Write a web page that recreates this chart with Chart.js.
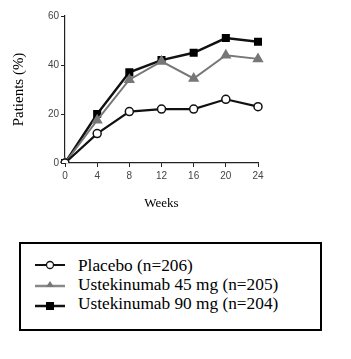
<!DOCTYPE html>
<html><head><meta charset="utf-8">
<script src="https://cdn.jsdelivr.net/npm/chart.js@4/dist/chart.umd.min.js"></script>
<style>
html,body{margin:0;padding:0;background:#fff;}
#wrap{position:relative;width:351px;height:359px;}
#c{position:absolute;left:0;top:0;}
#legend{position:absolute;left:19px;top:242px;width:299px;height:85px;border:2px solid #000;font-family:"Liberation Serif","Times New Roman",serif;font-size:17.3px;color:#000;}
.row{position:absolute;left:0;height:19px;line-height:19px;white-space:nowrap;}
.row svg{position:absolute;left:14px;top:2px;}
.row span{position:absolute;left:57px;top:0;}
</style></head><body>
<div id="wrap">
<canvas id="c" width="351" height="215"></canvas>
<div id="legend"></div>
</div>
<script>
const weeks = ["0","4","8","12","16","20","24"];
const placebo = [0, 12, 21, 22, 22, 26, 23];
const uste45 = [0, 17.5, 34, 41.5, 34.5, 44, 42.5];
const uste90 = [0, 20, 37, 42, 45, 51, 49.5];
const seriesNames = ["Placebo (n=206)", "Ustekinumab 45 mg (n=205)", "Ustekinumab 90 mg (n=204)"];
const yTicks = [0, 20, 40, 60];

const ds = [
  {label: seriesNames[0], data: placebo, borderColor:"#111", borderWidth:2.2, pointStyle:"circle", pointRadius:4, pointBackgroundColor:"#fff", pointBorderColor:"#111", pointBorderWidth:1.5, order:1},
  {label: seriesNames[1], data: uste45, borderColor:"#777", borderWidth:2, pointStyle:"triangle", pointRadius:4.5, pointBackgroundColor:"#777", pointBorderColor:"#777", order:2},
  {label: seriesNames[2], data: uste90, borderColor:"#111", borderWidth:2.4, pointStyle:"rect", pointRadius:4, pointBackgroundColor:"#000", pointBorderColor:"#000", order:3}
];

new Chart(document.getElementById("c"), {
  type: "line",
  data: {labels: weeks, datasets: ds},
  options: {
    responsive:false, animation:false,
    layout:{padding:{top:16,right:93,left:10,bottom:0}},
    plugins:{legend:{display:false},tooltip:{enabled:false}},
    elements:{line:{tension:0}},
    scales:{
      x:{
        offset:false,
        grid:{drawOnChartArea:false,drawTicks:true,tickLength:4,color:"#222"},
        border:{color:"#222",width:1.2},
        ticks:{color:"#444",font:{family:"Liberation Sans",size:10},padding:3,maxRotation:0,autoSkip:false},
        title:{display:true,text:"Weeks",color:"#000",font:{family:"Liberation Serif",size:13},padding:{top:10}},
        afterFit:(s)=>{s.height=52;}
      },
      y:{
        min:0,max:60,
        afterBuildTicks:(s)=>{s.ticks=yTicks.map(v=>({value:v}));},
        grid:{drawOnChartArea:false,drawTicks:true,tickLength:4,color:"#222"},
        border:{color:"#222",width:1.2},
        ticks:{color:"#444",font:{family:"Liberation Sans",size:10},padding:2},
        title:{display:true,text:"Patients (%)",color:"#000",font:{family:"Liberation Serif",size:15},padding:{top:0,bottom:6}},
        afterFit:(s)=>{s.width=55;}
      }
    }
  }
});

// HTML legend
const legend = document.getElementById("legend");
const sym = [
  '<svg width="30" height="14"><line x1="0" y1="7" x2="30" y2="7" stroke="#111" stroke-width="2"/><circle cx="15" cy="7" r="3.5" fill="#fff" stroke="#111" stroke-width="1.3"/></svg>',
  '<svg width="30" height="14"><line x1="0" y1="9" x2="30" y2="9" stroke="#888" stroke-width="2.5"/><polygon points="15,4 19,10 11,10" fill="#777"/></svg>',
  '<svg width="30" height="14"><line x1="0" y1="10" x2="30" y2="10" stroke="#111" stroke-width="2.5"/><rect x="11" y="6" width="8" height="8" fill="#000"/></svg>'
];
seriesNames.forEach((n,i)=>{
  const r=document.createElement("div");
  r.className="row";
  r.style.top=(12+i*19)+"px";
  r.innerHTML=sym[i]+"<span>"+n+"</span>";
  legend.appendChild(r);
});
</script>
</body></html>
